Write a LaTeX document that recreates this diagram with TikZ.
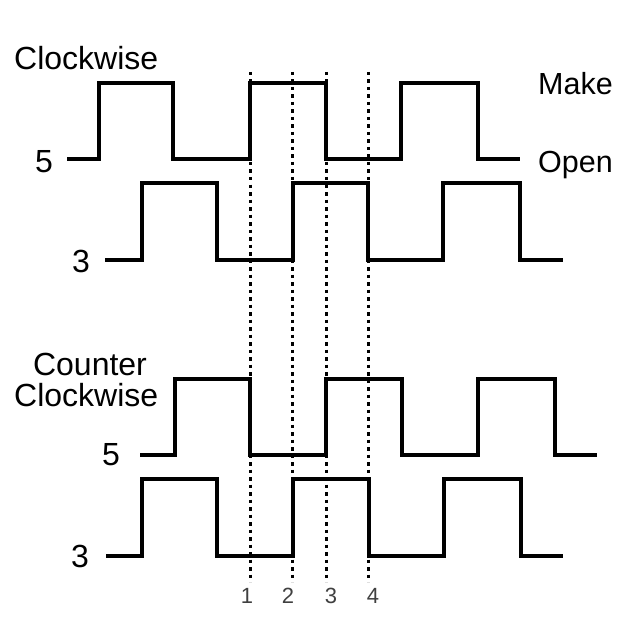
\documentclass[tikz,border=0pt]{standalone}
\usepackage{fontspec}
\setmainfont{Liberation Sans}
\begin{document}
\begin{tikzpicture}[x=1pt,y=-1pt,
    wave/.style={line width=4.5pt, black},
    marker/.style={line width=3pt, black, dash pattern=on 3.5pt off 4pt},
    lbl/.style={font=\fontsize{32}{32}\selectfont, inner sep=0pt},
    side/.style={font=\fontsize{30.5}{31}\selectfont, inner sep=0pt, anchor=base east},
    num/.style={font=\fontsize{22}{22}\selectfont, inner sep=0pt, black!75}]
   \useasboundingbox[fill=white] (0,0) rectangle (616,639);
   % dotted markers
   \foreach \xm/\xn/\k in {250/247/1, 292/288/2, 326/331/3, 368/373/4} {
      \draw[marker] (\xm,72) -- (\xm,582);
      \node[num, anchor=base] (n\k) at (\xn,603) {\k};
   }
   % clockwise
   \draw[wave] (67,159) -- (99,159) -- (99,83) -- (173,83) -- (173,159) -- (250,159) -- (250,83)
      -- (326,83) -- (326,159) -- (401,159) -- (401,83) -- (478,83) -- (478,159) -- (520,159);
   \draw[wave] (105,260) -- (142,260) -- (142,183) -- (217,183) -- (217,260) -- (293,260) -- (293,183)
      -- (368,183) -- (368,260) -- (443,260) -- (443,183) -- (520,183) -- (520,260) -- (563,260);
   % counter clockwise
   \draw[wave] (140,455) -- (175,455) -- (175,379) -- (250,379) -- (250,455) -- (326,455) -- (326,379)
      -- (402,379) -- (402,455) -- (478,455) -- (478,379) -- (555,379) -- (555,455) -- (597,455);
   \draw[wave] (106,556) -- (142,556) -- (142,479) -- (217,479) -- (217,556) -- (293,556) -- (293,479)
      -- (369,479) -- (369,556) -- (444,556) -- (444,479) -- (521,479) -- (521,556) -- (563,556);
   % labels
   \node[lbl, anchor=base west] (cw) at (14,70) {Clockwise};
   \node[lbl, anchor=base] (cw5) at (44,172) {5};
   \node[lbl, anchor=base] (cw3) at (81,272) {3};
   \node[side] (make) at (613,95) {Make};
   \node[side] (open) at (613,172) {Open};
   \node[lbl, anchor=base] (ccw1) at (90,375) {Counter};
   \node[lbl, anchor=base west] (ccw2) at (14,406) {Clockwise};
   \node[lbl, anchor=base] (ccw5) at (111,465) {5};
   \node[lbl, anchor=base] (ccw3) at (80,567) {3};
\end{tikzpicture}
\end{document}
